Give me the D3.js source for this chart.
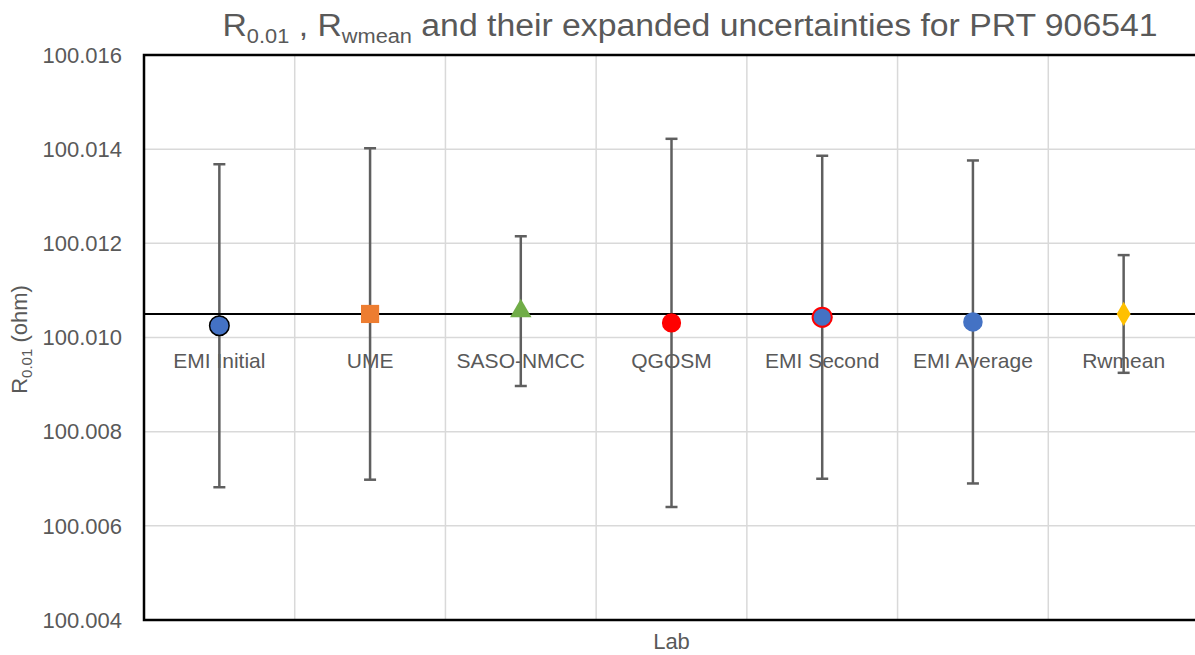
<!DOCTYPE html>
<html>
<head>
<meta charset="utf-8">
<script src="https://cdn.jsdelivr.net/npm/d3@7"></script>
<style>
  body { margin: 0; background: #fff; }
  svg { display: block; }
</style>
</head>
<body>
<div id="chart"></div>
<script>
// 데이터
const labs = ["EMI Initial", "UME", "SASO-NMCC", "QGOSM", "EMI Second", "EMI Average", "Rwmean"];
const values = [100.01025, 100.0105, 100.01056, 100.01031, 100.01043, 100.01033, 100.0105];
const uncertainties = [0.00343, 0.00352, 0.00159, 0.00391, 0.00343, 0.00343, 0.00125];
const rwmean = 100.0105;
const yTicks = [100.004, 100.006, 100.008, 100.010, 100.012, 100.014, 100.016];

// 마커 스타일
const markers = [
  { shape: d3.symbolCircle, size: 300, fill: "#4472C4", stroke: "#000", sw: 1.5 },
  { shape: d3.symbolSquare, size: 330, fill: "#ED7D31", stroke: "none", sw: 0 },
  { shape: d3.symbolTriangle, size: 200, fill: "#70AD47", stroke: "none", sw: 0 },
  { shape: d3.symbolCircle, size: 290, fill: "#FF0000", stroke: "none", sw: 0 },
  { shape: d3.symbolCircle, size: 290, fill: "#4472C4", stroke: "#FF0000", sw: 2 },
  { shape: d3.symbolCircle, size: 300, fill: "#4472C4", stroke: "none", sw: 0 },
  { shape: d3.symbolDiamond, size: 170, fill: "#FFC000", stroke: "none", sw: 0 }
];

const width = 1195, height = 655;
const margin = { left: 144, right: -4, top: 55, bottom: 35 };

const svg = d3.select("#chart").append("svg")
  .attr("width", width)
  .attr("height", height);

const x = d3.scaleBand()
  .domain(labs)
  .range([margin.left, width - margin.right]);

const y = d3.scaleLinear()
  .domain([100.004, 100.016])
  .range([height - margin.bottom, margin.top]);

const textColor = "#595959";
const font = "'Liberation Sans', Arial, sans-serif";

// 격자선
svg.append("g")
  .selectAll("line")
  .data(yTicks.slice(1, -1))
  .join("line")
  .attr("x1", margin.left).attr("x2", width - margin.right)
  .attr("y1", d => y(d)).attr("y2", d => y(d))
  .attr("stroke", "#D9D9D9").attr("stroke-width", 1.5);

svg.append("g")
  .selectAll("line")
  .data(labs.slice(1))
  .join("line")
  .attr("x1", d => x(d)).attr("x2", d => x(d))
  .attr("y1", margin.top).attr("y2", height - margin.bottom)
  .attr("stroke", "#D9D9D9").attr("stroke-width", 1.5);

// y축 눈금 레이블
svg.append("g")
  .selectAll("text")
  .data(yTicks)
  .join("text")
  .attr("x", 122)
  .attr("y", d => y(d))
  .attr("dy", "0.35em")
  .attr("text-anchor", "end")
  .attr("font-family", font)
  .attr("font-size", 22)
  .attr("fill", textColor)
  .text(d => d.toFixed(3));

// 카테고리 레이블
svg.append("g")
  .selectAll("text")
  .data(labs)
  .join("text")
  .attr("x", d => x(d) + x.bandwidth() / 2)
  .attr("y", y(100.010) + 30)
  .attr("text-anchor", "middle")
  .attr("font-family", font)
  .attr("font-size", 21)
  .attr("fill", textColor)
  .text(d => d);

// 오차 막대
const bars = svg.append("g")
  .selectAll("g")
  .data(labs)
  .join("g")
  .attr("stroke", "#5F5F5F")
  .attr("stroke-width", 2.5);

bars.append("line")
  .attr("x1", d => x(d) + x.bandwidth() / 2)
  .attr("x2", d => x(d) + x.bandwidth() / 2)
  .attr("y1", (d, i) => y(values[i] + uncertainties[i]))
  .attr("y2", (d, i) => y(values[i] - uncertainties[i]));

[1, -1].forEach(sign => {
  bars.append("line")
    .attr("x1", d => x(d) + x.bandwidth() / 2 - 6)
    .attr("x2", d => x(d) + x.bandwidth() / 2 + 6)
    .attr("y1", (d, i) => y(values[i] + sign * uncertainties[i]))
    .attr("y2", (d, i) => y(values[i] + sign * uncertainties[i]));
});

// Rwmean 기준선
svg.append("line")
  .attr("x1", margin.left).attr("x2", width - margin.right)
  .attr("y1", y(rwmean)).attr("y2", y(rwmean))
  .attr("stroke", "#000").attr("stroke-width", 2);

// 마커
svg.append("g")
  .selectAll("path")
  .data(labs)
  .join("path")
  .attr("transform", (d, i) => `translate(${x(d) + x.bandwidth() / 2},${y(values[i])})`)
  .attr("d", (d, i) => d3.symbol().type(markers[i].shape).size(markers[i].size)())
  .attr("fill", (d, i) => markers[i].fill)
  .attr("stroke", (d, i) => markers[i].stroke)
  .attr("stroke-width", (d, i) => markers[i].sw);

// 플롯 테두리 (왼쪽, 위, 아래)
svg.append("path")
  .attr("d", `M${width},${margin.top}H${margin.left}V${height - margin.bottom}H${width}`)
  .attr("fill", "none")
  .attr("stroke", "#000")
  .attr("stroke-width", 2.5);

// 제목
const title = svg.append("text")
  .attr("x", 690)
  .attr("y", 36)
  .attr("text-anchor", "middle")
  .attr("font-family", font)
  .attr("font-size", 31)
  .attr("fill", textColor)
  .attr("textLength", 935)
  .attr("lengthAdjust", "spacingAndGlyphs");
title.append("tspan").text("R");
title.append("tspan").attr("font-size", 20).attr("dy", 7).text("0.01");
title.append("tspan").attr("dy", -7).text(" , R");
title.append("tspan").attr("font-size", 20).attr("dy", 7).text("wmean");
title.append("tspan").attr("dy", -7).text(" and their expanded uncertainties for PRT 906541");

// y축 제목
const yTitle = svg.append("text")
  .attr("transform", `translate(27,${y(100.010) + 2}) rotate(-90)`)
  .attr("text-anchor", "middle")
  .attr("font-family", font)
  .attr("font-size", 22)
  .attr("fill", textColor);
yTitle.append("tspan").text("R");
yTitle.append("tspan").attr("font-size", 15).attr("dy", 5).text("0.01");
yTitle.append("tspan").attr("dy", -5).text(" (ohm)");

// x축 제목
svg.append("text")
  .attr("x", (margin.left + width - margin.right) / 2)
  .attr("y", 649)
  .attr("text-anchor", "middle")
  .attr("font-family", font)
  .attr("font-size", 22)
  .attr("fill", textColor)
  .text("Lab");
</script>
</body>
</html>
